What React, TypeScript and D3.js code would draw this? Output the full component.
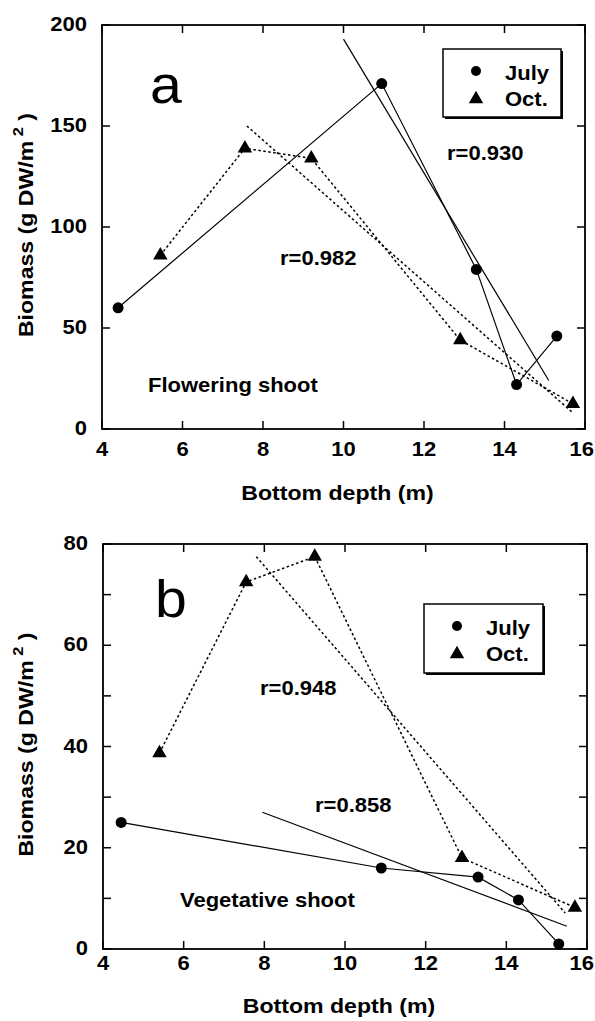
import React from "react";
import * as d3 from "d3";

// ---------- data ----------
const xTicks = [4, 6, 8, 10, 12, 14, 16];

// Panel a: Flowering shoot
const depthJulyA = [4.4, 10.95, 13.3, 14.3, 15.3];
const biomassJulyA = [60, 171, 79, 22, 46];
const depthOctA = [5.45, 7.55, 9.2, 12.9, 15.7];
const biomassOctA = [86, 139, 134, 44, 12.5];
const regJulyAx = [10, 15.1];
const regJulyAy = [193, 24];
const regOctAx = [7.6, 15.7];
const regOctAy = [150, 8];
const yTicksA = [0, 50, 100, 150, 200];
const yMinorA: number[] = [];

// Panel b: Vegetative shoot
const depthJulyB = [4.45, 10.9, 13.3, 14.3, 15.3];
const biomassJulyB = [25, 16, 14.2, 9.7, 1];
const depthOctB = [5.4, 7.55, 9.25, 12.9, 15.7];
const biomassOctB = [38.7, 72.5, 77.5, 18, 8.2];
const regJulyBx = [7.95, 15.5];
const regJulyBy = [27, 4.5];
const regOctBx = [7.8, 15.46];
const regOctBy = [77.5, 7.1];
const yTicksB = [0, 20, 40, 60, 80];
const yMinorB = [10, 30, 50, 70];

const FONT = "'Liberation Sans', Arial, Helvetica, sans-serif";
const SX = 1.1;
const W = 595;

function T({ x, y, children, size = 20, anchor = "start", rotate = 0, weight = "bold", sx = SX }: any) {
  return (
    <text
      transform={`translate(${x},${y}) rotate(${rotate}) scale(${sx},1)`}
      fontSize={size}
      fontWeight={weight}
      textAnchor={anchor}
      fontFamily={FONT}
      fill="#000"
    >
      {children}
    </text>
  );
}

const tri = d3.symbol().type(d3.symbolTriangle).size(90)();

function Panel(props: any) {
  const {
    x, y, yTicks, yMinor, julyX, julyY, octX, octY, rjX, rjY, roX, roY,
    letter, letterPos, legend, labels,
  } = props;
  const [x0, x1] = x.range();
  const [y0, y1] = y.range(); // y0 bottom, y1 top
  const line = d3.line<[number, number]>().x((d) => x(d[0])).y((d) => y(d[1]));
  const julyPts = julyX.map((v: number, i: number) => [v, julyY[i]] as [number, number]);
  const octPts = octX.map((v: number, i: number) => [v, octY[i]] as [number, number]);
  const rj = rjX.map((v: number, i: number) => [v, rjY[i]] as [number, number]);
  const ro = roX.map((v: number, i: number) => [v, roY[i]] as [number, number]);
  const TL = 8;
  const dotted = "2.5,2.5";
  return (
    <g>
      {/* frame */}
      <rect x={x0} y={y1} width={x1 - x0} height={y0 - y1} fill="none" stroke="#000" strokeWidth={1.8} />
      {/* x ticks */}
      {xTicks.map((t) => {
        const px = x(t);
        const half = String(t).length * 6.2;
        const fits = px + half <= W - 1;
        return (
          <g key={"xt" + t}>
            <line x1={px} x2={px} y1={y0} y2={y0 - TL} stroke="#000" strokeWidth={1.5} />
            <line x1={px} x2={px} y1={y1} y2={y1 + TL} stroke="#000" strokeWidth={1.5} />
            <T x={fits ? px : W - 1} y={y0 + props.xLabelDy} anchor={fits ? "middle" : "end"}>{t}</T>
          </g>
        );
      })}
      {/* y ticks */}
      {[...yTicks, ...yMinor].map((t: number) => (
        <g key={"yt" + t}>
          <line x1={x0} x2={x0 + TL} y1={y(t)} y2={y(t)} stroke="#000" strokeWidth={1.5} />
          <line x1={x1} x2={x1 - TL} y1={y(t)} y2={y(t)} stroke="#000" strokeWidth={1.5} />
        </g>
      ))}
      {yTicks.map((t: number) => (
        <T key={"yl" + t} x={x0 - 15} y={y(t) + 6} anchor="end">{t}</T>
      ))}
      {/* axis titles */}
      <T x={(x0 + x1) / 2 - 6} y={props.xTitleY} anchor="middle" size={21}>Bottom depth (m)</T>
      <text
        transform={`translate(33,${(y0 + y1) / 2 - 2}) rotate(-90) scale(${SX},1)`}
        fontSize={21}
        fontWeight="bold"
        textAnchor="middle"
        fontFamily={FONT}
      >
        Biomass (g DW/m
        <tspan dy={-10} fontSize={15}> 2</tspan>
        <tspan dy={10}> )</tspan>
      </text>
      {/* regression lines */}
      <path d={line(rj) || ""} fill="none" stroke="#000" strokeWidth={1.2} />
      <path d={line(ro) || ""} fill="none" stroke="#000" strokeWidth={1.5} strokeDasharray={dotted} />
      {/* data lines */}
      <path d={line(julyPts) || ""} fill="none" stroke="#000" strokeWidth={1.2} />
      <path d={line(octPts) || ""} fill="none" stroke="#000" strokeWidth={1.5} strokeDasharray={dotted} />
      {/* markers */}
      {julyPts.map((p: [number, number], i: number) => (
        <circle key={"c" + i} cx={x(p[0])} cy={y(p[1])} r={5.5} fill="#000" />
      ))}
      {octPts.map((p: [number, number], i: number) => (
        <path key={"t" + i} d={tri || ""} transform={`translate(${x(p[0])},${y(p[1])})`} fill="#000" />
      ))}
      {/* panel letter */}
      <T x={letterPos[0]} y={letterPos[1]} size={52} weight="normal">{letter}</T>
      {/* annotations */}
      {labels.map((l: any, i: number) => (
        <T key={"lab" + i} x={l.x} y={l.y}>{l.text}</T>
      ))}
      {/* legend */}
      <g>
        <rect x={legend.x + 2} y={legend.y + 2} width={legend.w} height={legend.h} fill="#000" />
        <rect x={legend.x} y={legend.y} width={legend.w} height={legend.h} fill="#fff" stroke="#000" strokeWidth={1.5} />
        <circle cx={legend.x + 33} cy={legend.y + 22} r={5} fill="#000" />
        <path d={tri || ""} transform={`translate(${legend.x + 33},${legend.y + 50})`} fill="#000" />
        <T x={legend.x + 62} y={legend.y + 31}>July</T>
        <T x={legend.x + 62} y={legend.y + 57}>Oct.</T>
      </g>
    </g>
  );
}

export default function App() {
  const xA = d3.scaleLinear().domain([4, 16]).range([102, 585]);
  const yA = d3.scaleLinear().domain([0, 200]).range([429, 25]);
  const xB = d3.scaleLinear().domain([4, 16]).range([103, 587]);
  const yB = d3.scaleLinear().domain([0, 80]).range([949, 544]);
  return (
    <svg
      width={595}
      height={1021}
      viewBox="0 0 595 1021"
      style={{ position: "absolute", left: 0, top: 0, background: "#fff" }}
    >
      <rect x={0} y={0} width={595} height={1021} fill="#fff" />
      <Panel
        x={xA}
        y={yA}
        yTicks={yTicksA}
        yMinor={yMinorA}
        julyX={depthJulyA}
        julyY={biomassJulyA}
        octX={depthOctA}
        octY={biomassOctA}
        rjX={regJulyAx}
        rjY={regJulyAy}
        roX={regOctAx}
        roY={regOctAy}
        letter="a"
        letterPos={[150, 103]}
        xLabelDy={27}
        xTitleY={500}
        legend={{ x: 443, y: 49, w: 118, h: 68 }}
        labels={[
          { x: 447, y: 160, text: "r=0.930" },
          { x: 280, y: 265, text: "r=0.982" },
          { x: 148, y: 392, text: "Flowering shoot" },
        ]}
      />
      <Panel
        x={xB}
        y={yB}
        yTicks={yTicksB}
        yMinor={yMinorB}
        julyX={depthJulyB}
        julyY={biomassJulyB}
        octX={depthOctB}
        octY={biomassOctB}
        rjX={regJulyBx}
        rjY={regJulyBy}
        roX={regOctBx}
        roY={regOctBy}
        letter="b"
        letterPos={[155, 617]}
        xLabelDy={21}
        xTitleY={1013}
        legend={{ x: 424, y: 604, w: 119, h: 69 }}
        labels={[
          { x: 260, y: 695, text: "r=0.948" },
          { x: 315, y: 812, text: "r=0.858" },
          { x: 180, y: 907, text: "Vegetative shoot" },
        ]}
      />
    </svg>
  );
}
